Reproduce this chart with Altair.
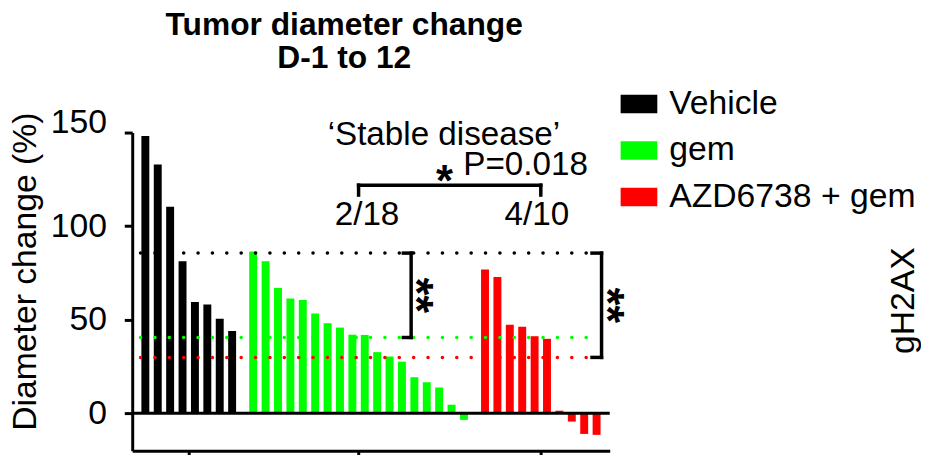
import altair as alt
import pandas as pd
import numpy as np

FONT = "Liberation Sans"

# ---------------- data ----------------
groups = ["Vehicle", "gem", "AZD6738 + gem"]
colors = ["#000000", "#00ff00", "#ff0000"]
vehicle = [148.1, 132.9, 110.4, 81.3, 59.5, 58.1, 50.5, 44.0]
gem = [86.4, 81.3, 67.0, 61.3, 60.6, 53.4, 48.1, 45.8, 42.0, 41.9,
       32.7, 30.4, 27.6, 19.3, 16.6, 13.8, 4.6, -3.5]
azd = [76.9, 72.8, 47.3, 46.3, 41.2, 39.8, 1.4, -4.4, -11.0, -11.5]
y_ticks = [0, 50, 100, 150]
title_lines = ["Tumor diameter change", "D-1 to 12"]
y_title = "Diameter change (%)"

series = [vehicle, gem, azd]
GAP = 0.7  # extra empty space between groups (in bar slots)

rows, centers = [], []
offset = 0.0
for g, vals in zip(groups, series):
    for i, v in enumerate(vals):
        rows.append({"group": g, "pos": offset + i, "value": v})
    centers.append(offset + (len(vals) - 1) / 2)
    offset += len(vals) + GAP
bars_df = pd.DataFrame(rows)
means = {g: float(np.mean(v)) for g, v in zip(groups, series)}

X_DOMAIN = [-0.66, 37.06]
Y_DOMAIN = [-20, 150]
xs = alt.Scale(domain=X_DOMAIN, nice=False, zero=False)
ys = alt.Scale(domain=Y_DOMAIN, nice=False, zero=False)
cscale = alt.Scale(domain=groups, range=colors)

AX_X = alt.Axis(values=centers, labels=False, tickSize=14, tickWidth=3, tickColor="black",
                domainWidth=3, domainColor="black", grid=False, title=None)
AX_Y = alt.Axis(
    values=y_ticks, tickSize=8, tickWidth=3, tickColor="black",
    domainWidth=3, domainColor="black", grid=False,
    labelFont=FONT, labelFontSize=34, labelColor="black", labelPadding=18,
    labelBaseline={"condition": {"test": "datum.value == 150", "value": "alphabetic"},
                   "value": "middle"},
    title=y_title, titleFont=FONT, titleFontSize=34, titleFontWeight="normal",
    titleColor="black", titleAngle=270, titleAlign="center",
    titleBaseline="alphabetic", titleX=-97.5, titleY=139.8)

# ---------------- layers ----------------
zero_line = alt.Chart(pd.DataFrame({"value": [0]})).mark_rule(
    color="black", strokeWidth=3
).encode(y=alt.Y("value:Q", scale=ys, axis=AX_Y))

bars = alt.Chart(bars_df).mark_bar(size=8).encode(
    x=alt.X("pos:Q", scale=xs, axis=AX_X),
    y=alt.Y("value:Q", scale=ys, axis=AX_Y),
    y2=alt.datum(0),
    color=alt.Color("group:N", scale=cscale, legend=alt.Legend(
        orient="none", legendX=492.7, legendY=-47.4, title=None, direction="vertical",
        symbolType="M-1,-0.505L1,-0.505L1,0.505L-1,0.505Z", symbolSize=1369,
        symbolStrokeWidth=0, symbolOpacity=1, labelFont=FONT, labelFontSize=34,
        labelColor="black", labelOffset=12, rowPadding=11, padding=0, labelLimit=400)),
)

mean_lines = alt.Chart(bars_df).transform_aggregate(
    mean="mean(value)", groupby=["group"]
).transform_calculate(xa=str(X_DOMAIN[0] + 0.27), xb="35.63").mark_rule(
    strokeDash=[0.1, 14.4], strokeCap="round", strokeWidth=3.5
).encode(
    x=alt.X("xa:Q", scale=xs, axis=AX_X),
    x2="xb:Q",
    y=alt.Y("mean:Q", scale=ys, axis=AX_Y),
    stroke=alt.Stroke("group:N", scale=alt.Scale(domain=groups, range=colors), legend=None),
)

# bracket segments (annotations)
mv, mg, ma = means["Vehicle"], means["gem"], means["AZD6738 + gem"]
top_y, tick_y = 121.9, 116.6
b1x, b1a = 21.44, 20.81
b2x, b2a = 36.80, 36.03
seg = pd.DataFrame([
    {"x": centers[1], "x2": centers[2], "y": top_y, "y2": top_y},
    {"x": centers[1], "x2": centers[1], "y": top_y, "y2": tick_y},
    {"x": centers[2], "x2": centers[2], "y": top_y, "y2": tick_y},
    {"x": b1x, "x2": b1x, "y": mv, "y2": mg},
    {"x": b1a, "x2": b1x, "y": mv, "y2": mv},
    {"x": b1a, "x2": b1x, "y": mg, "y2": mg},
    {"x": b2x, "x2": b2x, "y": mv, "y2": ma},
    {"x": b2a, "x2": b2x, "y": mv, "y2": mv},
    {"x": b2a, "x2": b2x, "y": ma, "y2": ma},
])
brackets = alt.Chart(seg).mark_rule(color="black", strokeWidth=3.5, strokeCap="square").encode(
    x=alt.X("x:Q", scale=xs, axis=AX_X), x2="x2:Q",
    y=alt.Y("y:Q", scale=ys, axis=AX_Y), y2="y2:Q",
)

def text_layer(df, **kw):
    return alt.Chart(df).mark_text(font=FONT, color="black", **kw).encode(
        x=alt.X("x:Q", scale=xs, axis=AX_X),
        y=alt.Y("y:Q", scale=ys, axis=AX_Y),
        text="t:N",
    )

notes = text_layer(pd.DataFrame([
    {"t": "\u2018Stable disease\u2019", "x": 24.08, "y": 143.2},
    {"t": "P=0.018", "x": 30.67, "y": 127.3},
    {"t": "2/18", "x": 17.88, "y": 100.7},
    {"t": "4/10", "x": 31.58, "y": 100.7},
]), fontSize=33.5, align="center", baseline="alphabetic")

star = text_layer(pd.DataFrame([{"t": "*", "x": 24.14, "y": 115.9}]),
                  fontSize=44, fontWeight="bold", align="center", baseline="alphabetic")

dstars = text_layer(pd.DataFrame([
    {"t": "**", "x": 20.6, "y": (mv + mg) / 2},
    {"t": "**", "x": 36.0, "y": (mv + ma) / 2},
]), fontSize=46, fontWeight="bold", align="center", baseline="alphabetic", angle=90)

side = text_layer(pd.DataFrame([{"t": "gH2AX", "x": 62.01, "y": 60.2}]),
                  fontSize=34, align="center", baseline="alphabetic", angle=270)

title = text_layer(pd.DataFrame([
    {"t": title_lines[0], "x": 16.04, "y": 202.3},
    {"t": title_lines[1], "x": 16.04, "y": 184.5},
]), fontSize=32, fontWeight="bold", align="center", baseline="alphabetic")

chart = alt.layer(
    bars, zero_line, mean_lines, brackets, notes, star, dstars, side, title
).properties(
    width=481.7, height=321,
    autosize=alt.AutoSizeParams(type="none"),
    padding={"left": 125.3, "top": 123.7, "right": 314, "bottom": 2},
).configure_view(stroke=None)

chart.save("out.html", embed_options={"renderer": "svg", "actions": False})
